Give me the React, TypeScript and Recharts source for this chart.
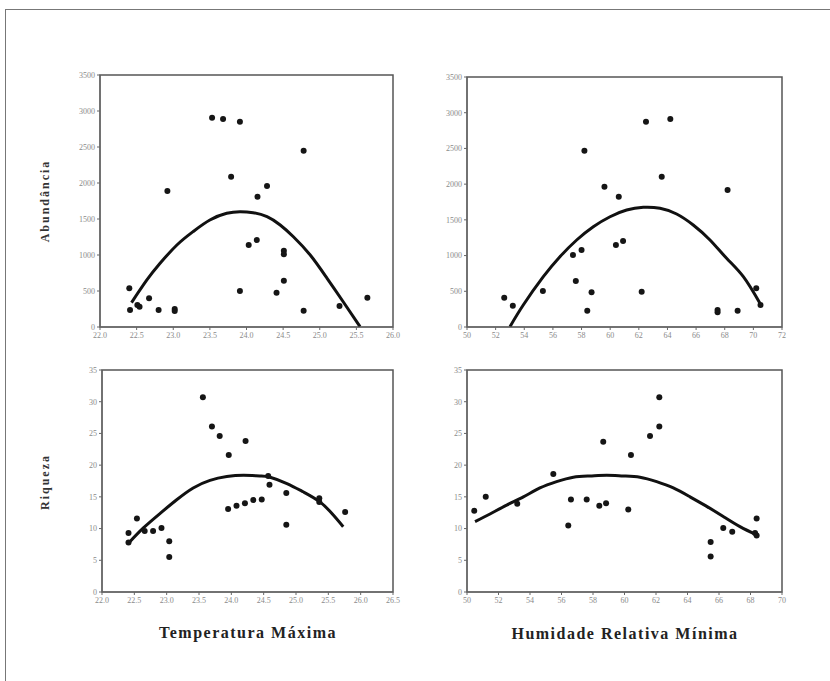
import React from 'react';
import { ComposedChart, Scatter, Line, XAxis, YAxis, ReferenceArea } from 'recharts';

// tick values
const tempTicksTop = [22, 22.5, 23, 23.5, 24, 24.5, 25, 25.5, 26];
const tempTicksBottom = [22, 22.5, 23, 23.5, 24, 24.5, 25, 25.5, 26, 26.5];
const humTicksTop = [50, 52, 54, 56, 58, 60, 62, 64, 66, 68, 70, 72];
const humTicksBottom = [50, 52, 54, 56, 58, 60, 62, 64, 66, 68, 70];
const abundTicks = [0, 500, 1000, 1500, 2000, 2500, 3000, 3500];
const riqTicks = [0, 5, 10, 15, 20, 25, 30, 35];

// Abundância x Temperatura Máxima
const abTempX = [22.4, 22.41, 22.51, 22.54, 22.67, 22.8, 23.02, 23.02, 22.92, 23.53, 23.68, 23.91, 23.79, 24.15, 24.28, 24.03, 24.14, 23.91, 24.51, 24.51, 24.51, 24.41, 24.78, 24.78, 25.27, 25.65];
const abTempY = [537, 236, 306, 280, 399, 236, 250, 222, 1889, 2907, 2889, 2852, 2088, 1810, 1958, 1139, 1208, 500, 1060, 1010, 643, 476, 2449, 226, 292, 407];
const abTempFitX = [22.43, 22.64, 22.82, 23.05, 23.27, 23.5, 23.73, 23.91, 24.09, 24.28, 24.46, 24.64, 24.87, 25.1, 25.32, 25.55];
const abTempFitY = [338, 653, 885, 1139, 1324, 1486, 1579, 1602, 1588, 1532, 1417, 1254, 1000, 676, 351, 4];

// Abundância x Humidade Relativa Mínima
const abHumX = [52.6, 53.2, 55.3, 57.4, 58.0, 57.6, 58.7, 58.4, 58.2, 59.6, 60.6, 60.4, 60.9, 62.2, 62.5, 64.2, 63.6, 67.5, 67.5, 68.2, 68.9, 70.2, 70.5];
const abHumY = [410, 298, 504, 1008, 1078, 644, 486, 228, 2468, 1964, 1824, 1148, 1204, 494, 2874, 2912, 2104, 238, 206, 1918, 228, 542, 308];
const abHumFitX = [53.0, 53.93, 55.33, 56.49, 57.66, 58.82, 59.99, 61.15, 62.31, 63.48, 64.64, 65.8, 66.97, 68.13, 69.3, 70.46];
const abHumFitY = [4, 308, 704, 984, 1218, 1404, 1544, 1638, 1676, 1662, 1582, 1428, 1218, 962, 704, 332];

// Riqueza x Temperatura Máxima
const riqTempX = [22.41, 22.41, 22.54, 22.66, 22.79, 22.92, 23.04, 23.04, 23.56, 23.7, 23.82, 24.22, 23.96, 23.95, 24.08, 24.21, 24.34, 24.47, 24.57, 24.59, 24.85, 24.85, 25.36, 25.36, 25.76];
const riqTempY = [9.3, 7.8, 11.6, 9.6, 9.6, 10.1, 8.0, 5.5, 30.7, 26.1, 24.6, 23.8, 21.6, 13.1, 13.6, 14.0, 14.5, 14.6, 18.3, 16.9, 15.6, 10.6, 14.8, 14.2, 12.6];
const riqTempFitX = [22.41, 22.64, 22.9, 23.15, 23.41, 23.67, 23.93, 24.19, 24.44, 24.6, 24.86, 25.11, 25.37, 25.58, 25.73];
const riqTempFitY = [7.7, 10.1, 12.4, 14.5, 16.4, 17.6, 18.2, 18.4, 18.3, 18.1, 17.1, 15.8, 14.2, 12.1, 10.3];

// Riqueza x Humidade Relativa Mínima
const riqHumX = [50.46, 51.19, 53.19, 55.48, 56.6, 56.43, 57.6, 58.4, 58.83, 58.65, 60.24, 60.41, 61.62, 62.21, 62.21, 65.47, 65.47, 66.27, 66.84, 68.39, 68.29, 68.39];
const riqHumY = [12.8, 15.0, 13.9, 18.6, 14.6, 10.5, 14.6, 13.6, 14.0, 23.7, 13.0, 21.6, 24.6, 26.1, 30.7, 7.9, 5.6, 10.1, 9.5, 11.6, 9.3, 8.9];
const riqHumFitX = [50.51, 51.46, 52.52, 53.58, 54.63, 55.69, 56.75, 57.81, 58.87, 59.92, 60.98, 62.04, 63.1, 64.16, 65.22, 66.27, 67.33, 68.39];
const riqHumFitY = [11.1, 12.3, 13.7, 15.0, 16.4, 17.4, 18.1, 18.3, 18.4, 18.3, 18.1, 17.4, 16.4, 15.0, 13.5, 11.9, 10.3, 9.0];

const zip = (xs: number[], ys: number[]) => xs.map((x, i) => ({ x, y: ys[i] }));

const FONT = '"Liberation Serif", "DejaVu Serif", serif';
const tickStyle = { fontSize: 8, fill: '#8a8a8a', fontFamily: FONT };

const Dot = (props: any) => <circle cx={props.cx} cy={props.cy} r={3} fill="#151515" />;

interface PanelProps {
  left: number;
  top: number;
  plotW: number;
  plotH: number;
  xTicks: number[];
  yTicks: number[];
  xDigits: number;
  points: { x: number; y: number }[];
  fit: { x: number; y: number }[];
}

const Panel: React.FC<PanelProps> = ({ left, top, plotW, plotH, xTicks, yTicks, xDigits, points, fit }) => {
  const padL = 40;
  const padT = 10;
  const padR = 10;
  const padB = 22;
  const xMin = xTicks[0];
  const xMax = xTicks[xTicks.length - 1];
  const yMin = yTicks[0];
  const yMax = yTicks[yTicks.length - 1];
  return (
    <div style={{ position: 'absolute', left: left - padL, top: top - padT }}>
      <ComposedChart
        width={plotW + padL + padR}
        height={plotH + padT + padB}
        margin={{ top: padT, right: padR, bottom: 0, left: 0 }}
      >
        <XAxis
          dataKey="x"
          type="number"
          domain={[xMin, xMax]}
          ticks={xTicks}
          interval={0}
          height={padB}
          tickSize={3}
          tick={tickStyle}
          tickFormatter={(v: number) => v.toFixed(xDigits)}
          stroke="#666"
          allowDataOverflow
        />
        <YAxis
          dataKey="y"
          type="number"
          domain={[yMin, yMax]}
          ticks={yTicks}
          interval={0}
          width={padL}
          tickSize={3}
          tick={tickStyle}
          stroke="#666"
          allowDataOverflow
        />
        <ReferenceArea x1={xMin} x2={xMax} y1={yMin} y2={yMax} fill="none" stroke="#555" strokeWidth={1.5} />
        <Scatter data={points} shape={<Dot />} isAnimationActive={false} />
        <Line
          data={fit}
          dataKey="y"
          type="natural"
          dot={false}
          stroke="#111"
          strokeWidth={3}
          isAnimationActive={false}
        />
      </ComposedChart>
    </div>
  );
};

const yLabel = (text: string, cx: number, cy: number) => (
  <div
    style={{
      position: 'absolute',
      left: cx - 60,
      top: cy - 8,
      width: 120,
      textAlign: 'center',
      transform: 'rotate(-90deg)',
      fontFamily: FONT,
      fontWeight: 'bold',
      fontSize: 12,
      letterSpacing: 2,
      color: '#333',
      lineHeight: '16px',
    }}
  >
    {text}
  </div>
);

const xLabel = (text: string, cx: number, cy: number) => (
  <div
    style={{
      position: 'absolute',
      left: cx - 150,
      top: cy - 10,
      width: 300,
      textAlign: 'center',
      fontFamily: FONT,
      fontWeight: 'bold',
      fontSize: 16,
      letterSpacing: 1.5,
      color: '#222',
      lineHeight: '20px',
    }}
  >
    {text}
  </div>
);

export default function App() {
  return (
    <div
      style={{
        position: 'fixed',
        left: 0,
        top: 0,
        width: 830,
        height: 681,
        overflow: 'hidden',
        background: '#fff',
      }}
    >
      <div
        style={{
          position: 'absolute',
          left: 5,
          top: 9,
          width: 900,
          height: 800,
          border: '1.5px solid #777',
        }}
      />
      <Panel
        left={100}
        top={75}
        plotW={293}
        plotH={252}
        xTicks={tempTicksTop}
        yTicks={abundTicks}
        xDigits={1}
        points={zip(abTempX, abTempY)}
        fit={zip(abTempFitX, abTempFitY)}
      />
      <Panel
        left={467}
        top={77}
        plotW={315}
        plotH={250}
        xTicks={humTicksTop}
        yTicks={abundTicks}
        xDigits={0}
        points={zip(abHumX, abHumY)}
        fit={zip(abHumFitX, abHumFitY)}
      />
      <Panel
        left={102}
        top={370}
        plotW={291}
        plotH={222}
        xTicks={tempTicksBottom}
        yTicks={riqTicks}
        xDigits={1}
        points={zip(riqTempX, riqTempY)}
        fit={zip(riqTempFitX, riqTempFitY)}
      />
      <Panel
        left={467}
        top={370}
        plotW={315}
        plotH={222}
        xTicks={humTicksBottom}
        yTicks={riqTicks}
        xDigits={0}
        points={zip(riqHumX, riqHumY)}
        fit={zip(riqHumFitX, riqHumFitY)}
      />
      {yLabel('Abundância', 45, 201)}
      {yLabel('Riqueza', 45, 482)}
      {xLabel('Temperatura Máxima', 248, 633)}
      {xLabel('Humidade Relativa Mínima', 625, 634)}
    </div>
  );
}
